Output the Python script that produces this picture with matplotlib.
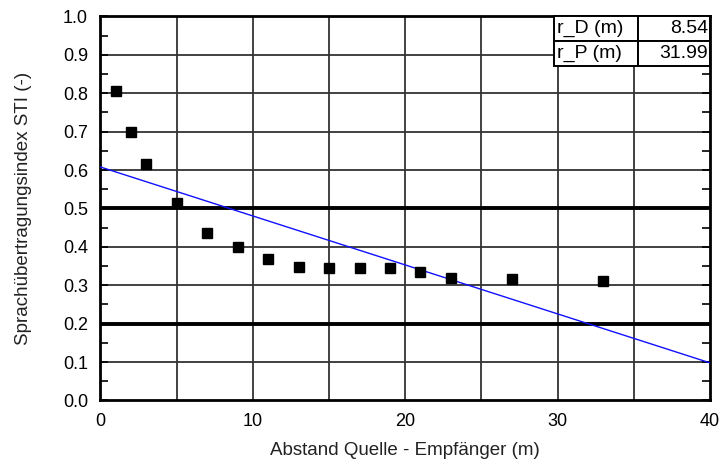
import matplotlib
matplotlib.use("Agg")
import matplotlib.pyplot as plt
import numpy as np

plt.rcParams["font.family"] = ["Liberation Sans", "DejaVu Sans"]
plt.rcParams["font.size"] = 11

# measured STI over source-receiver distance
distance = [1, 2, 3, 5, 7, 9, 11, 13, 15, 17, 19, 21, 23, 27, 33]
sti = [0.805, 0.70, 0.615, 0.513, 0.437, 0.399, 0.368, 0.348, 0.346,
       0.346, 0.346, 0.335, 0.319, 0.317, 0.311]

# regression line end points
fit_x = [0, 40]
fit_y = [0.608, 0.098]

# limits drawn as thick lines
limits = [0.2, 0.5]

table_labels = ["r_D (m)", "r_P (m)"]
table_values = ["8.54", "31.99"]

fig = plt.figure(figsize=(7.24, 4.67), dpi=100)
ax = fig.add_axes([0.1388, 0.1424, 0.8419, 0.8223])

grid_col = "#333333"
for yv in np.arange(0.1, 1.0, 0.1):
    ax.axhline(yv, color=grid_col, lw=1.3, zorder=1)
for xv in np.arange(5, 40, 5):
    ax.axvline(xv, color=grid_col, lw=1.3, zorder=1)
for yv in limits:
    ax.axhline(yv, color="black", lw=2.8, zorder=2)

ax.plot(fit_x, fit_y, color="#1010ff", lw=1.0, zorder=3)
ax.plot(distance, sti, "s", color="black", markersize=6.5, zorder=4)

ax.set_xlim(0, 40)
ax.set_ylim(0, 1)
ax.set_xticks([0, 10, 20, 30, 40])
ax.set_yticks(np.arange(0, 1.01, 0.1))
ax.set_yticklabels([f"{v:.1f}" for v in np.arange(0, 1.01, 0.1)])
ax.set_yticks(np.arange(0.05, 1.0, 0.1), minor=True)
ax.tick_params(axis="y", which="both", direction="in", length=6, width=1.2,
               right=True, colors="black", labelsize=13, pad=9)
ax.tick_params(axis="x", which="both", length=0, labelsize=13, pad=9)
for s in ax.spines.values():
    s.set_linewidth(2)

ax.set_xlabel("Abstand Quelle - Empfänger (m)", fontsize=13.5, labelpad=9,
              color="#222222")
ax.set_ylabel("Sprachübertragungsindex STI (-)", fontsize=13.5, labelpad=22,
              color="#222222")

tab = ax.table(cellText=[[l, v] for l, v in zip(table_labels, table_values)],
               bbox=[0.744, 0.872, 0.256, 0.128], colWidths=[0.54, 0.46])
tab.auto_set_font_size(False)
tab.set_fontsize(14)
tab.set_zorder(6)
for (r, c), cell in tab.get_celld().items():
    cell.set_linewidth(1.4)
    cell.set_edgecolor("black")
    cell.set_facecolor("white")
    cell.get_text().set_ha("left" if c == 0 else "right")
    cell.PAD = 0.03

fig.savefig("out.png", dpi=100)
